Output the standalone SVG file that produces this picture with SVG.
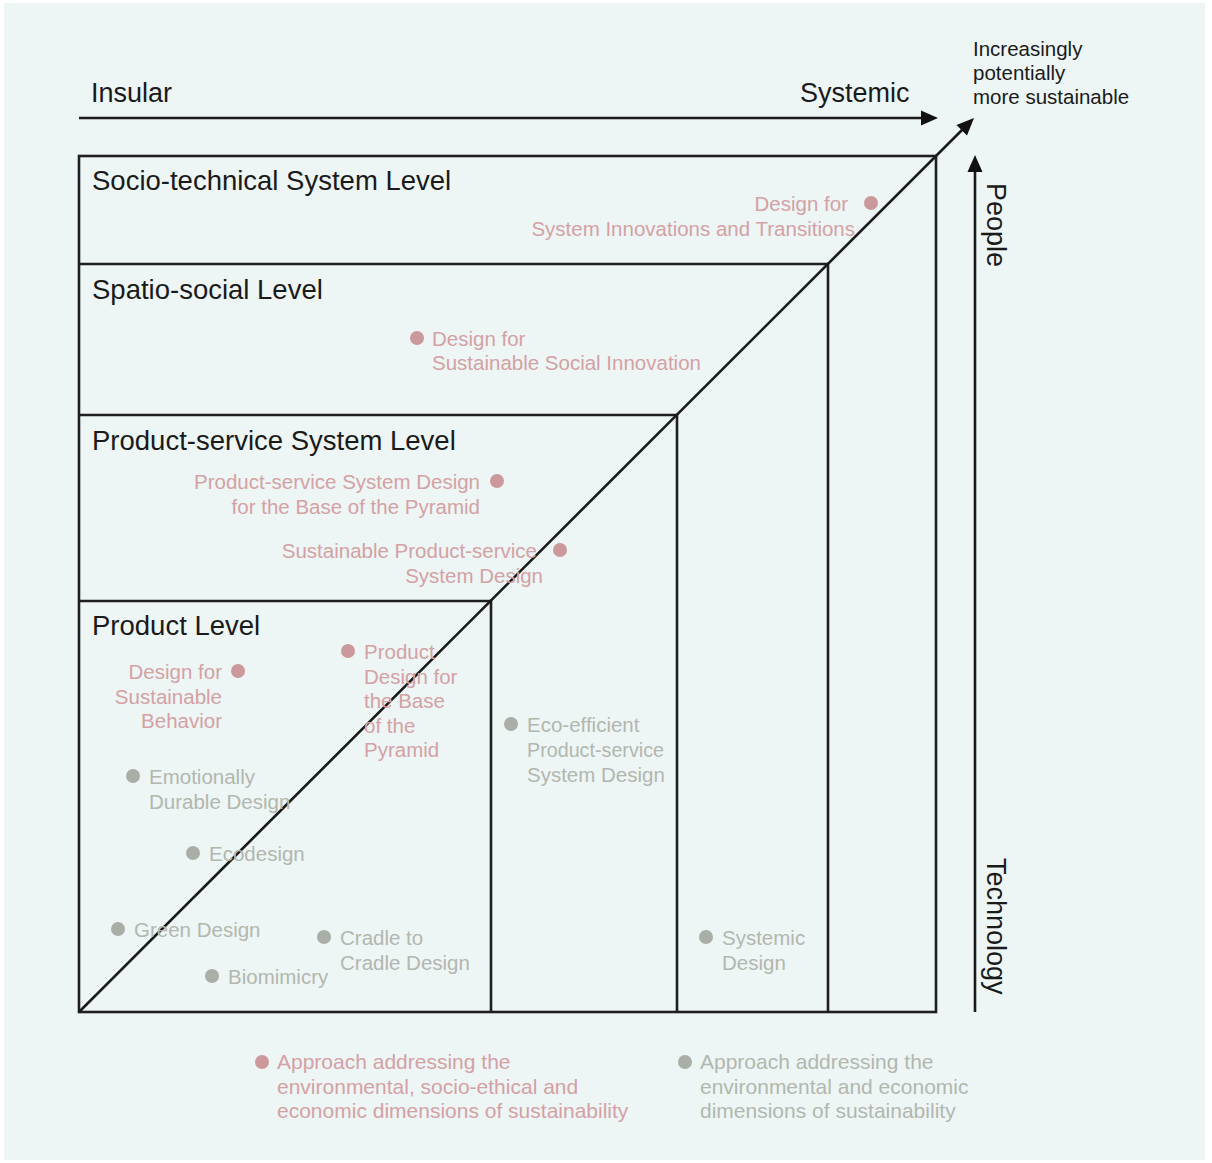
<svg xmlns="http://www.w3.org/2000/svg" width="1212" height="1163" viewBox="0 0 1212 1163">
<style>
  text { font-family: "Liberation Sans", Arial, sans-serif; }
  .title { font-size: 27.5px; fill: #1a1a1a; }
  .axis { font-size: 27px; fill: #1a1a1a; }
  .note { font-size: 20.5px; fill: #1a1a1a; }
  .pk { font-size: 20.5px; fill: #d4a1a4; }
  .gr { font-size: 20.5px; fill: #b2b7af; }
  .lg { font-size: 21px; }
  .pkd { fill: #cb999c; }
  .grd { fill: #a9aea6; }
  .box { fill: none; stroke: #1f1f1f; stroke-width: 2.6; }
  .ln { fill: none; stroke: #1a1a1a; stroke-width: 2.6; }
  .head { fill: #111; }
  .end { text-anchor: end; }
</style>
<rect x="0" y="0" width="1212" height="1163" fill="#ffffff"/>
<rect x="4" y="3" width="1201" height="1157" fill="#edf5f5"/>

<g id="level-socio-technical">
  <rect class="box" x="79" y="156" width="857" height="856"/>
  <text class="title" x="92" y="190">Socio-technical System Level</text>
</g>
<g id="level-spatio-social">
  <polyline class="box" points="79,264 828,264 828,1012"/>
  <text class="title" x="92" y="299">Spatio-social Level</text>
</g>
<g id="level-product-service">
  <polyline class="box" points="79,415 677,415 677,1012"/>
  <text class="title" x="92" y="450">Product-service System Level</text>
</g>
<g id="level-product">
  <polyline class="box" points="79,601 491,601 491,1012"/>
  <text class="title" x="92" y="635">Product Level</text>
</g>

<g id="connectors">
  <line class="ln" x1="79" y1="118" x2="924" y2="118"/>
  <polygon class="head" points="938,118 921,110.5 921,125.5"/>
  <line class="ln" x1="79" y1="1012" x2="963" y2="129"/>
  <polygon class="head" points="974,118 967,135.5 956.5,125"/>
  <line class="ln" x1="975" y1="1012" x2="975" y2="170"/>
  <polygon class="head" points="975,155 967.5,172 982.5,172"/>
</g>

<g id="axis-labels">
  <text class="axis" x="91" y="102">Insular</text>
  <text class="axis" x="800" y="102">Systemic</text>
  <text class="note" x="973" y="56">Increasingly</text>
  <text class="note" x="973" y="80">potentially</text>
  <text class="note" x="973" y="104">more sustainable</text>
  <text class="axis" transform="translate(987,183) rotate(90)">People</text>
  <text class="axis" transform="translate(987,858) rotate(90)">Technology</text>
</g>

<g id="item-system-innovations">
  <circle class="pkd" cx="871" cy="203" r="7"/>
  <text class="pk end" x="848" y="211">Design for</text>
  <text class="pk end" x="855" y="236">System Innovations and Transitions</text>
</g>
<g id="item-social-innovation">
  <circle class="pkd" cx="417" cy="338" r="7"/>
  <text class="pk" x="432" y="346">Design for</text>
  <text class="pk" x="432" y="370">Sustainable Social Innovation</text>
</g>
<g id="item-pss-bop">
  <circle class="pkd" cx="497" cy="481" r="7"/>
  <text class="pk end" x="480" y="489">Product-service System Design</text>
  <text class="pk end" x="480" y="514">for the Base of the Pyramid</text>
</g>
<g id="item-sustainable-pss">
  <circle class="pkd" cx="560" cy="550" r="7"/>
  <text class="pk end" x="537" y="558">Sustainable Product-service</text>
  <text class="pk end" x="543" y="583">System Design</text>
</g>
<g id="item-sustainable-behavior">
  <circle class="pkd" cx="238" cy="671" r="7"/>
  <text class="pk end" x="222" y="679">Design for</text>
  <text class="pk end" x="222" y="704">Sustainable</text>
  <text class="pk end" x="222" y="728">Behavior</text>
</g>
<g id="item-product-bop">
  <circle class="pkd" cx="348" cy="651" r="7"/>
  <text class="pk" x="364" y="659">Product</text>
  <text class="pk" x="364" y="684">Design for</text>
  <text class="pk" x="364" y="708">the Base</text>
  <text class="pk" x="364" y="733">of the</text>
  <text class="pk" x="364" y="757">Pyramid</text>
</g>
<g id="item-emotionally-durable">
  <circle class="grd" cx="133" cy="776" r="7"/>
  <text class="gr" x="149" y="784">Emotionally</text>
  <text class="gr" x="149" y="809">Durable Design</text>
</g>
<g id="item-ecodesign">
  <circle class="grd" cx="193" cy="853" r="7"/>
  <text class="gr" x="209" y="861">Ecodesign</text>
</g>
<g id="item-green-design">
  <circle class="grd" cx="118" cy="929" r="7"/>
  <text class="gr" x="134" y="937">Green Design</text>
</g>
<g id="item-biomimicry">
  <circle class="grd" cx="212" cy="976" r="7"/>
  <text class="gr" x="228" y="984">Biomimicry</text>
</g>
<g id="item-cradle">
  <circle class="grd" cx="324" cy="937" r="7"/>
  <text class="gr" x="340" y="945">Cradle to</text>
  <text class="gr" x="340" y="970">Cradle Design</text>
</g>
<g id="item-eco-efficient-pss">
  <circle class="grd" cx="511" cy="724" r="7"/>
  <text class="gr" x="527" y="732">Eco-efficient</text>
  <text class="gr" x="527" y="757" textLength="137" lengthAdjust="spacingAndGlyphs">Product-service</text>
  <text class="gr" x="527" y="782">System Design</text>
</g>
<g id="item-systemic-design">
  <circle class="grd" cx="706" cy="937" r="7"/>
  <text class="gr" x="722" y="945">Systemic</text>
  <text class="gr" x="722" y="970">Design</text>
</g>

<g id="legend-pink">
  <circle class="pkd" cx="262" cy="1062" r="7"/>
  <text class="pk lg" x="277" y="1069">Approach addressing the</text>
  <text class="pk lg" x="277" y="1094">environmental, socio-ethical and</text>
  <text class="pk lg" x="277" y="1118">economic dimensions of sustainability</text>
</g>
<g id="legend-gray">
  <circle class="grd" cx="685" cy="1062" r="7"/>
  <text class="gr lg" x="700" y="1069">Approach addressing the</text>
  <text class="gr lg" x="700" y="1094">environmental and economic</text>
  <text class="gr lg" x="700" y="1118">dimensions of sustainability</text>
</g>
</svg>
